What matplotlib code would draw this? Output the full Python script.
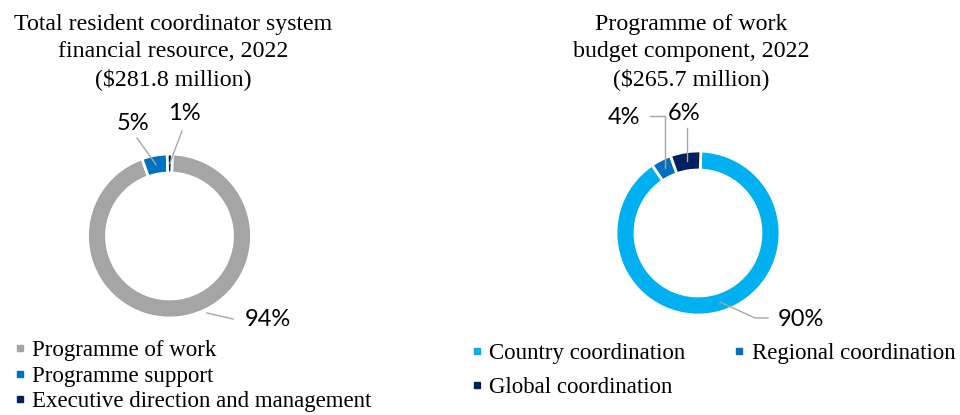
import numpy as np
import matplotlib.pyplot as plt
from matplotlib.lines import Line2D

# left donut: total resident coordinator system, 2022
left_title = "Total resident coordinator system\nfinancial resource, 2022\n($281.8 million)"
left_labels = ["Programme of work", "Programme support", "Executive direction and management"]
left_values = [94, 5, 1]
left_colors = ["#A5A5A5", "#0070C0", "#002060"]

# right donut: programme of work budget component, 2022
right_title = "Programme of work\nbudget component, 2022\n($265.7 million)"
right_labels = ["Country coordination", "Regional coordination", "Global coordination"]
right_values = [90, 4, 6]
right_colors = ["#00B0F0", "#0070C0", "#002060"]

W, H = 960, 415
SERIF = "Liberation Serif"
SANS = "Lato"
LEADER = "#A6A6A6"


def py(y):
    """pixel row (from top) -> data y"""
    return H - y


def ring_point(wedge, center, r):
    ang = np.deg2rad((wedge.theta1 + wedge.theta2) / 2)
    return center[0] + r * np.cos(ang), center[1] + r * np.sin(ang)


fig = plt.figure(figsize=(9.6, 4.15), dpi=100)
ax = fig.add_axes([0, 0, 1, 1])
ax.axis("off")

R = 82
RW = 19
wp = dict(width=RW, edgecolor="white", linewidth=2)

# ---- left donut
lc = (169.5, py(236))
lw, _ = ax.pie(left_values, colors=left_colors, center=lc, radius=R,
               startangle=88, counterclock=False, wedgeprops=wp, frame=True)
ax.text(173, py(14), left_title, ha="center", va="top", fontsize=17.2,
        family=SERIF, linespacing=1.38)

# leader lines and value labels
p = ring_point(lw[1], lc, R - RW / 2)
ax.plot([p[0], 137], [p[1], py(138)], color=LEADER, lw=1)
ax.text(133, py(124), f"{left_values[1]}%", ha="center", va="center", fontsize=17, family=SANS)
p = ring_point(lw[2], lc, R - RW / 2)
ax.plot([p[0], 182], [p[1], py(131)], color=LEADER, lw=1)
ax.text(184, py(114), f"{left_values[2]}%", ha="center", va="center", fontsize=17, family=SANS)
ax.plot([207, 233], [py(313), py(319)], color=LEADER, lw=1)
ax.text(245, py(320), f"{left_values[0]}%", ha="left", va="center", fontsize=17, family=SANS)

h = [Line2D([], [], marker="s", ls="", color=c, markersize=5) for c in left_colors]
ax.legend(h, left_labels, loc="upper left", bbox_to_anchor=(14, py(340)),
          bbox_transform=ax.transData, frameon=False, ncol=1,
          prop=dict(family=SERIF, size=16.5), handlelength=0.5, handletextpad=0.3,
          labelspacing=0.2, borderpad=0, borderaxespad=0)

# ---- right donut
rc = (698, py(233))
rw, _ = ax.pie(right_values, colors=right_colors, center=rc, radius=R,
               startangle=88, counterclock=False, wedgeprops=wp, frame=True)
ax.text(691, py(14), right_title, ha="center", va="top", fontsize=17.2,
        family=SERIF, linespacing=1.38)

p = ring_point(rw[1], rc, R - RW / 2)
ax.plot([650, p[0], p[0]], [py(116), py(116), p[1]], color=LEADER, lw=1)
ax.text(624, py(117), f"{right_values[1]}%", ha="center", va="center", fontsize=17, family=SANS)
p = ring_point(rw[2], rc, R - RW / 2)
ax.plot([p[0], p[0]], [py(128), p[1]], color=LEADER, lw=1)
ax.text(684, py(113), f"{right_values[2]}%", ha="center", va="center", fontsize=17, family=SANS)
ax.plot([720, 755, 768], [py(302), py(318), py(318)], color=LEADER, lw=1)
ax.text(778, py(319), f"{right_values[0]}%", ha="left", va="center", fontsize=17, family=SANS)

# two columns filled column-wise: Country / Global, then Regional
order = [0, 2, 1]
h = [Line2D([], [], marker="s", ls="", color=right_colors[i], markersize=5) for i in order]
fig.legend(h, [right_labels[i] for i in order], loc="upper left",
           bbox_to_anchor=(471, py(343)), bbox_transform=ax.transData,
           frameon=False, ncol=2, prop=dict(family=SERIF, size=16.5),
           handlelength=0.5, handletextpad=0.3, labelspacing=0.55,
           columnspacing=2.1, borderpad=0, borderaxespad=0)

ax.set_xlim(0, W)
ax.set_ylim(0, H)
ax.set_aspect("equal")
fig.savefig("out.png", dpi=100)
